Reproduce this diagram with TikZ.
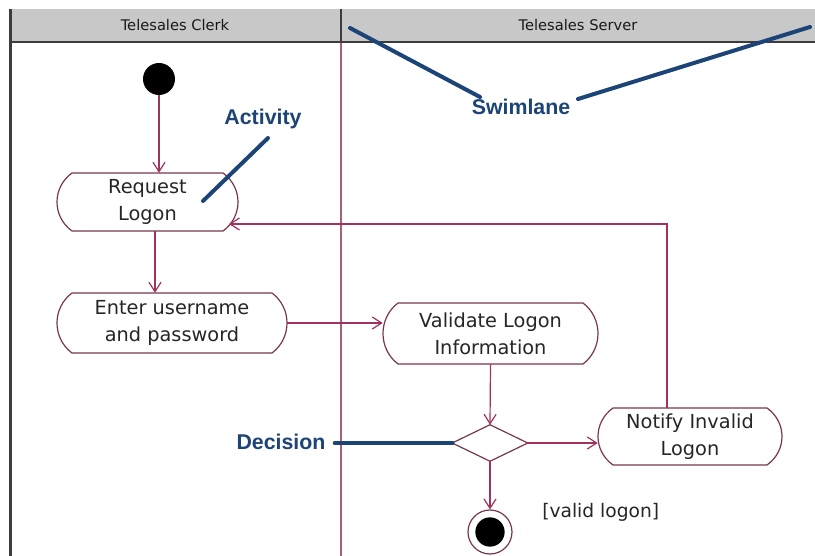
\documentclass[tikz,border=0pt]{standalone}
\usepackage{fontspec}
\setmainfont{DejaVu Sans}
\newfontfamily\notefont{Liberation Sans}
\usetikzlibrary{arrows.meta,calc}

\definecolor{flowcol}{RGB}{160,50,95}
\definecolor{boxcol}{RGB}{120,55,80}
\definecolor{notecol}{RGB}{28,68,118}
\definecolor{hdrgray}{RGB}{200,200,200}
\definecolor{hdrdark}{RGB}{60,60,60}
\definecolor{lanecol}{RGB}{165,95,125}

\tikzset{
  acttext/.style={shape=rectangle, inner sep=0pt, align=center,
    font=\fontsize{14.5}{20}\selectfont, text=black!85},
  boxline/.style={draw=boxcol, line width=0.9pt},
  arr/.style={draw=flowcol, line width=0.9pt,
    -{Straight Barb[length=7pt,width=9pt,line width=0.9pt]}},
  notetext/.style={font=\notefont\bfseries\fontsize{16}{19}\selectfont, text=notecol},
  noteline/.style={draw=notecol, line width=3pt, line cap=round},
  lanetitle/.style={font=\fontsize{11}{13}\selectfont, text=black!90},
}

% activity: name, centre x, centre y, width, height, label
\newcommand\actbox[6]{%
  \node[acttext, minimum width={#4*0.75pt}, minimum height={#5*0.75pt}] (#1) at (#2,#3) {#6};
  \draw[boxline] (#2-#4/2+15,#3-#5/2) -- (#2+#4/2-15,#3-#5/2)
    .. controls (#2+#4/2+5,#3-#5/4) and (#2+#4/2+5,#3+#5/4) .. (#2+#4/2-15,#3+#5/2)
    -- (#2-#4/2+15,#3+#5/2)
    .. controls (#2-#4/2-5,#3+#5/4) and (#2-#4/2-5,#3-#5/4) .. (#2-#4/2+15,#3-#5/2)
    -- cycle;
}

\begin{document}
\begin{tikzpicture}[x=0.75pt,y=-0.75pt]
\useasboundingbox (0,0) rectangle (815,556);
\fill[white] (0,0) rectangle (815,556);

% lane headers and borders
\fill[hdrgray] (9,9) rectangle (815,41);
\draw[hdrdark, line width=2.2pt] (9,42) -- (815,42);
\draw[hdrdark, line width=1.6pt] (10.5,9) -- (10.5,556);
\draw[hdrdark, line width=1pt] (341,9) -- (341,41);
\draw[lanecol, line width=1pt] (341,43) -- (341,556);
\node[lanetitle] (clerk) at (175,25) {Telesales Clerk};
\node[lanetitle] (server) at (578,25) {Telesales Server};

% states
\node[circle, fill=black, inner sep=0pt, minimum size=24pt] (start) at (159,79) {};
\actbox{req}{147.5}{202}{181}{58}{Request\\Logon}
\actbox{enter}{172}{323}{230}{60}{Enter username\\and password}
\actbox{valid}{490.5}{333.5}{215}{61}{Validate Logon\\Information}
\actbox{notify}{690}{436.5}{184}{57}{Notify Invalid\\Logon}
\node[inner sep=0pt, minimum width=56.25pt, minimum height=27pt] (dec) at (490,443) {};
\draw[boxline] (dec.north) -- (dec.east) -- (dec.south) -- (dec.west) -- cycle;
\node[circle, draw=boxcol, line width=0.9pt, inner sep=0pt, minimum size=33pt] (final) at (490,532) {};
\fill[black] (final.center) circle[radius=11pt];
\node[acttext, anchor=west, font=\fontsize{14}{18}\selectfont] (guard) at (542,512) {[valid logon]};

% transitions
\draw[arr] (start) -- (start |- req.north);
\draw[arr] ($(req.south)+(7.5,0)$) coordinate (rq) -- (rq |- enter.north);
\draw[arr] (enter.east) -- (enter.east -| valid.west);
\draw[arr] (valid.south) -- (dec.north);
\draw[arr] (dec.east) -- (dec.east -| notify.west);
\draw[arr] (dec.south) -- (final.north);
\coordinate (reqin) at (229,224);
\draw[arr] ($(notify.north)+(-23,0)$) |- (reqin);

% callouts
\node[notetext] (actnote) at (263,119) {Activity};
\node[notetext] (swimnote) at (521,107) {Swimlane};
\node[notetext] (decnote) at (281,442) {Decision};
\coordinate (actA) at (268,138);
\coordinate (actB) at (203,201);
\draw[noteline] (actA) -- (actB);
\coordinate (swA) at (350,28);
\coordinate (swB) at (480,97);
\coordinate (swC) at (578,99);
\coordinate (swD) at (810,27);
\draw[noteline] (swA) -- (swB);
\draw[noteline] (swC) -- (swD);
\coordinate (decA) at (335,443);
\draw[noteline, line width=3.5pt] (decA) -- (dec.west);
\end{tikzpicture}
\end{document}
